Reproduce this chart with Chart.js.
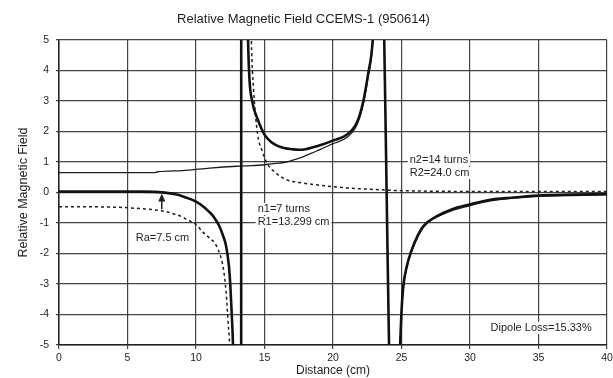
<!DOCTYPE html>
<html>
<head>
<meta charset="utf-8">
<script src="https://cdn.jsdelivr.net/npm/chart.js@4.4.1/dist/chart.umd.min.js"></script>
<style>
  html, body { margin: 0; padding: 0; background: #ffffff; }
  #wrap { width: 613px; height: 378px; position: relative; }
</style>
</head>
<body>
<div id="wrap"><canvas id="c" width="613" height="378"></canvas></div>
<script>
// ---- data ----
const chartTitle = 'Relative Magnetic Field CCEMS-1 (950614)';
const xTitle = 'Distance (cm)';
const yTitle = 'Relative Magnetic Field';

// total field (thick solid)
const thickX = [0, 2, 4, 6, 7, 8, 8.5, 9, 9.5, 10, 10.5, 11, 11.3, 11.7, 12.0, 12.2, 12.4, 12.5, 12.6, 12.7, 13.0, 13.29, 13.31, 13.8, 14.1, 14.5, 15.0, 15.5, 16, 16.5, 17, 17.5, 18, 19, 20, 21, 21.75, 22.2, 22.55, 22.9, 23.41, 24.42, 24.9, 25.0, 25.13, 25.38, 25.74, 26.2, 26.6, 27.5, 28.3, 29, 30, 31.5, 33, 35, 37.5, 40];
const thickY = [0.03, 0.03, 0.03, 0.03, 0.02, -0.02, -0.06, -0.12, -0.2, -0.3, -0.45, -0.65, -0.8, -1.1, -1.45, -1.76, -2.4, -3.0, -3.9, -5.0, -12, -30, 30, 5.0, 3.0, 2.4, 1.9, 1.65, 1.52, 1.45, 1.42, 1.4, 1.42, 1.54, 1.7, 1.89, 2.3, 2.97, 3.85, 5.0, 10, -10, -5.0, -3.9, -3.09, -2.43, -1.89, -1.4, -1.1, -0.8, -0.62, -0.5, -0.39, -0.24, -0.17, -0.1, -0.07, -0.05];

// coil 1 field (dashed)
const dashedX = [0, 2, 4, 5, 6, 7, 7.5, 8, 8.5, 9, 9.3, 10, 10.5, 11, 11.5, 12, 12.2, 12.35, 12.45, 12.8, 13.3, 13.7, 14.04, 14.2, 14.5, 14.8, 15.2, 15.8, 16.6, 17.5, 19, 21, 23, 25, 28, 32, 36, 40];
const dashedY = [-0.47, -0.47, -0.48, -0.5, -0.53, -0.57, -0.6, -0.65, -0.72, -0.8, -0.88, -1.05, -1.3, -1.5, -1.76, -2.5, -3.3, -4.3, -5.0, -12, null, 15, 5.0, 3.4, 1.9, 1.4, 0.95, 0.65, 0.42, 0.33, 0.24, 0.15, 0.1, 0.06, 0.04, 0.03, 0.03, 0.03];

// coil 2 field (thin solid)
const thinX = [0, 3, 7, 7.2, 9, 11, 13, 14, 15, 16, 16.6, 17.2, 17.8, 18.4, 19, 20, 21, 21.75, 22.2, 22.55, 22.9, 23.41, 23.9, 24.42, 24.9, 25.0, 25.13, 25.38, 25.74, 26.6, 28.3, 30, 31.5, 35, 40];
const thinY = [0.65, 0.65, 0.65, 0.68, 0.72, 0.8, 0.86, 0.88, 0.91, 0.96, 1.0, 1.08, 1.17, 1.28, 1.4, 1.6, 1.8, 2.22, 2.88, 3.75, 4.9, 9.9, null, -10, -5.05, -3.95, -3.13, -2.47, -1.93, -1.14, -0.66, -0.43, -0.27, -0.13, -0.08];

const xTicks = [0, 5, 10, 15, 20, 25, 30, 35, 40];
const yTicks = [-5, -4, -3, -2, -1, 0, 1, 2, 3, 4, 5];

const labels = [
  { text: 'Ra=7.5 cm', x: 5.6, y: -1.5 },
  { text: 'n1=7 turns', x: 14.5, y: -0.54 },
  { text: 'R1=13.299 cm', x: 14.5, y: -0.97 },
  { text: 'n2=14 turns', x: 25.6, y: 1.07 },
  { text: 'R2=24.0 cm', x: 25.6, y: 0.64 },
  { text: 'Dipole Loss=15.33%', x: 31.5, y: -4.44 }
];
const arrow = { x: 7.5, from: -0.55, to: -0.03 };

// ---- build ----
const pts = (xs, ys) => xs.map((x, i) => ({ x: x, y: ys[i] }));
const ink = '#1e1e1e';
const gridInk = 'rgba(35,35,35,0.85)';
const FONT = '"Liberation Sans", Arial, sans-serif';

const annotPlugin = {
  id: 'annot',
  afterDatasetsDraw(chart) {
    const ctx = chart.ctx;
    const xs = chart.scales.x, ys = chart.scales.y;
    ctx.save();
    ctx.font = '11px ' + FONT;
    ctx.textBaseline = 'middle';
    ctx.textAlign = 'left';
    labels.forEach(l => {
      const px = xs.getPixelForValue(l.x);
      const py = ys.getPixelForValue(l.y);
      const w = ctx.measureText(l.text).width;
      ctx.fillStyle = '#ffffff';
      ctx.fillRect(px - 2, py - 6, w + 4, 12);
      ctx.fillStyle = ink;
      ctx.fillText(l.text, px, py);
    });
    // arrow
    const ax = xs.getPixelForValue(arrow.x);
    const y0 = ys.getPixelForValue(arrow.from);
    const y1 = ys.getPixelForValue(arrow.to);
    ctx.strokeStyle = ink;
    ctx.lineWidth = 1.5;
    ctx.beginPath();
    ctx.moveTo(ax, y0);
    ctx.lineTo(ax, y1 + 6);
    ctx.stroke();
    ctx.fillStyle = ink;
    ctx.beginPath();
    ctx.moveTo(ax, y1);
    ctx.lineTo(ax - 3.5, y1 + 8);
    ctx.lineTo(ax + 3.5, y1 + 8);
    ctx.closePath();
    ctx.fill();
    ctx.restore();
  }
};

new Chart(document.getElementById('c'), {
  type: 'line',
  data: {
    datasets: [
      { data: pts(thinX, thinY), borderColor: ink, borderWidth: 1.3, pointRadius: 0, spanGaps: false, cubicInterpolationMode: 'monotone', order: 3 },
      { data: pts(dashedX, dashedY), borderColor: ink, borderWidth: 1.5, borderDash: [3, 3], pointRadius: 0, spanGaps: false, cubicInterpolationMode: 'monotone', order: 2 },
      { data: pts(thickX, thickY), borderColor: '#111', borderWidth: 2.6, pointRadius: 0, cubicInterpolationMode: 'monotone', order: 1 }
    ]
  },
  options: {
    responsive: false,
    animation: false,
    events: [],
    layout: { padding: { left: 0, right: 6, top: 0, bottom: 0 } },
    plugins: {
      legend: { display: false },
      tooltip: { enabled: false },
      title: {
        display: true,
        text: chartTitle,
        color: ink,
        font: { family: FONT, size: 13, weight: 'normal', lineHeight: 1.2 },
        padding: { top: 12, bottom: 12.4 }
      }
    },
    scales: {
      x: {
        type: 'linear',
        min: 0, max: 40,
        afterBuildTicks: s => { s.ticks = xTicks.map(v => ({ value: v })); },
        afterFit: s => { s.height = 33; s.paddingLeft = 0; s.paddingRight = 0; },
        ticks: { color: ink, font: { family: FONT, size: 10.5 }, padding: 3, maxRotation: 0, autoSkip: false },
        grid: { color: gridInk, lineWidth: 1.2, tickLength: 4, tickColor: gridInk },
        border: { color: '#222', width: 1.5 },
        title: { display: true, text: xTitle, color: ink, font: { family: FONT, size: 12 }, padding: { top: 0, bottom: 0 } }
      },
      y: {
        type: 'linear',
        min: -5, max: 5,
        afterBuildTicks: s => { s.ticks = yTicks.map(v => ({ value: v })); },
        afterFit: s => { s.width = 59; s.paddingTop = 0; s.paddingBottom = 0; },
        ticks: { color: ink, font: { family: FONT, size: 10.5 }, padding: 7, autoSkip: false },
        grid: { color: gridInk, lineWidth: 1.2, tickLength: 3, tickColor: gridInk },
        border: { color: '#222', width: 1.5 },
        title: { display: true, text: yTitle, color: ink, font: { family: FONT, size: 12.5 }, padding: { top: 16, bottom: 0 } }
      }
    }
  },
  plugins: [annotPlugin]
});
</script>
</body>
</html>
